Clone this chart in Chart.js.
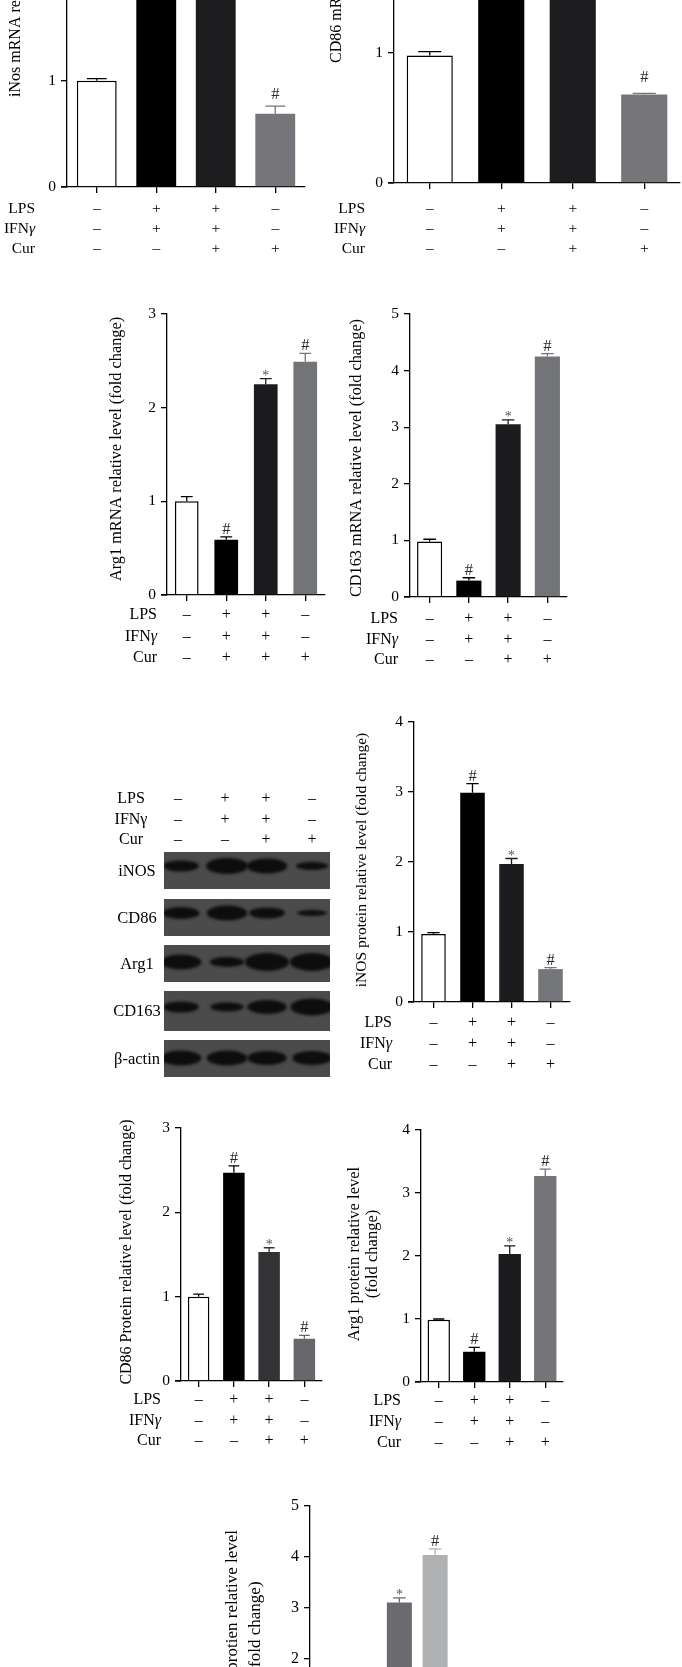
<!DOCTYPE html>
<html>
<head>
<meta charset="utf-8">
<script src="https://cdn.jsdelivr.net/npm/chart.js@4.4.1/dist/chart.umd.min.js"></script>
<style>
  html, body { margin: 0; padding: 0; background: #fff; }
  body { width: 682px; height: 1667px; position: relative; overflow: hidden; }
  canvas { position: absolute; }
</style>
</head>
<body>
<script>
// treatment rows under each bar group
const rowNames = ['LPS', 'IFNγ', 'Cur'];
const lpsRow = ['–', '+', '+', '–'];
const ifnRow = ['–', '+', '+', '–'];
const curRow = ['–', '–', '+', '+'];
const curRowArg1 = ['–', '+', '+', '+'];
const groups = ['control', 'LPS+IFNγ', 'LPS+IFNγ+Cur', 'Cur'];

// qPCR (fold change), top of bar and top of error bar
const inosMrna = [1.0, 2.9, 2.4, 0.69];
const inosMrnaErr = [1.02, 3.0, 2.5, 0.76];
const cd86Mrna = [0.98, 2.6, 2.2, 0.68];
const cd86MrnaErr = [1.01, 2.7, 2.3, 0.69];
const arg1Mrna = [1.0, 0.59, 2.25, 2.49];
const arg1MrnaErr = [1.05, 0.62, 2.31, 2.58];
const cd163Mrna = [0.98, 0.29, 3.05, 4.25];
const cd163MrnaErr = [1.02, 0.34, 3.13, 4.30];

// western blot quantification
const inosProt = [0.97, 2.99, 1.97, 0.47];
const inosProtErr = [0.99, 3.12, 2.05, 0.49];
const cd86Prot = [1.0, 2.47, 1.53, 0.50];
const cd86ProtErr = [1.03, 2.55, 1.58, 0.54];
const arg1Prot = [0.99, 0.48, 2.03, 3.27];
const arg1ProtErr = [1.0, 0.55, 2.16, 3.38];
const cd163Prot = [1.0, 0.5, 3.11, 4.04];
const cd163ProtErr = [1.03, 0.55, 3.2, 4.16];

const marks = ['', '#', '*', '#'];

// blot band strength per lane (band thickness)
const blotProteins = ['iNOS', 'CD86', 'Arg1', 'CD163', 'β-actin'];
const inosBands = [9, 14, 13, 6];
const cd86Bands = [10, 13, 9, 4];
const arg1Bands = [13, 8, 16, 16];
const cd163Bands = [9, 7, 12, 15];
const actinBands = [13, 13, 12, 12];

const FONT = '"Liberation Serif", "Times New Roman", serif';
Chart.defaults.animation = false;

// italic gamma in "IFNγ"
function drawRowName(ctx, name, xr, y, size, italicGamma) {
  ctx.textAlign = 'right';
  if (name.endsWith('γ') && italicGamma) {
    ctx.font = `italic ${size}px ${FONT}`;
    const gw = ctx.measureText('γ').width;
    ctx.fillText('γ', xr, y);
    ctx.font = `${size}px ${FONT}`;
    ctx.fillText(name.slice(0, -1), xr - gw, y);
  } else {
    ctx.font = `${size}px ${FONT}`;
    ctx.fillText(name, xr, y);
  }
}

const extras = {
  id: 'extras',
  afterDatasetsDraw(chart, args, o) {
    const { ctx, scales: { x, y } } = chart;
    const meta = chart.getDatasetMeta(0);
    ctx.save();
    meta.data.forEach((bar, i) => {
      const top = y.getPixelForValue(o.err[i]);
      const v = y.getPixelForValue(o.values[i]);
      const c = o.colors[i] === '#ffffff' ? '#000' : o.colors[i];
      ctx.strokeStyle = c;
      ctx.lineWidth = 1.3;
      const cw = bar.width * 0.25;
      ctx.beginPath();
      ctx.moveTo(bar.x, v);
      ctx.lineTo(bar.x, top);
      ctx.moveTo(bar.x - cw, top);
      ctx.lineTo(bar.x + cw, top);
      ctx.stroke();
      const m = o.marks[i];
      if (m) {
        ctx.textAlign = 'center';
        ctx.textBaseline = 'alphabetic';
        if (m === '*') {
          ctx.fillStyle = '#555';
          ctx.font = `14px ${FONT}`;
          ctx.fillText(m, bar.x, top + 1.5);
        } else {
          ctx.fillStyle = '#2a2a2a';
          ctx.font = `16.5px ${FONT}`;
          ctx.fillText(m, bar.x, top - o.markGap);
        }
      }
    });
    ctx.restore();
  },
  afterDraw(chart, args, o) {
    const { ctx, chartArea, scales: { x } } = chart;
    ctx.save();
    // x axis sticks out a bit left of the y axis
    ctx.strokeStyle = '#000';
    ctx.lineWidth = 1.3;
    ctx.beginPath();
    ctx.moveTo(chartArea.left - 6, chartArea.bottom);
    ctx.lineTo(chartArea.left, chartArea.bottom);
    ctx.stroke();
    // treatment table under the x axis
    ctx.fillStyle = '#000';
    ctx.textBaseline = 'middle';
    o.rows.forEach((row, k) => {
      const yy = chartArea.bottom + o.row0 + o.lh * k;
      drawRowName(ctx, rowNames[k], chartArea.left + o.rowDx, yy, o.fs, true);
      ctx.font = `${o.fs}px ${FONT}`;
      ctx.textAlign = 'center';
      row.forEach((s, i) => ctx.fillText(s, x.getPixelForTick(i), yy));
    });
    // y axis title
    const t = o.title;
    ctx.font = `${t.size}px ${FONT}`;
    ctx.fillStyle = '#000';
    ctx.textBaseline = 'middle';
    t.lines.forEach((line, k) => {
      ctx.save();
      ctx.translate(t.x[k] - o.cLeft, t.y - o.cTop);
      ctx.rotate(-Math.PI / 2);
      ctx.textAlign = t.align;
      ctx.fillText(line, 0, 0);
      ctx.restore();
    });
    ctx.restore();
  }
};

function makePanel(p) {
  const padL = 100, padR = 12, padT = 24, padB = 80, YW = 30, XH = 12;
  const cLeft = Math.round(p.left - padL), cTop = Math.round(p.top - padT);
  const W = Math.round(p.right + padR - cLeft), H = Math.round(p.bottom + padB - cTop);
  const cv = document.createElement('canvas');
  cv.width = W; cv.height = H;
  cv.style.left = cLeft + 'px'; cv.style.top = cTop + 'px';
  cv.style.width = W + 'px'; cv.style.height = H + 'px';
  document.body.appendChild(cv);
  const fs = p.fs || 16;
  const axisGrid = { display: true, drawOnChartArea: false, drawTicks: true, tickLength: 6, color: '#000', lineWidth: 1.3, offset: false };
  new Chart(cv, {
    type: 'bar',
    data: {
      labels: groups,
      datasets: [{
        data: p.values,
        backgroundColor: p.colors,
        borderColor: '#000',
        borderWidth: p.colors.map(c => c === '#ffffff' ? 1.5 : 0),
        borderSkipped: 'bottom',
        categoryPercentage: 1,
        barPercentage: p.barPct
      }]
    },
    options: {
      responsive: false,
      devicePixelRatio: 1,
      layout: { padding: { left: padL - YW, right: padR, top: padT, bottom: padB - XH } },
      plugins: {
        legend: { display: false },
        tooltip: { enabled: false },
        extras: {
          values: p.values, err: p.err, colors: p.colors, marks: p.marks,
          markGap: p.markGap || 3, rowDx: p.rowDx, fs, lh: p.lh || 21, row0: p.row0 || 20,
          rows: [lpsRow, ifnRow, p.cur],
          title: p.title, cLeft, cTop
        }
      },
      scales: {
        x: {
          offset: true,
          grid: axisGrid,
          border: { display: true, color: '#000', width: 1.3 },
          ticks: { callback: () => '', maxRotation: 0, autoSkip: false },
          afterFit(s) { s.height = XH; s.paddingLeft = 0; s.paddingRight = 0; }
        },
        y: {
          min: 0, max: p.yMax,
          grid: axisGrid,
          border: { display: true, color: '#000', width: 1.3 },
          ticks: { stepSize: 1, color: '#000', font: { family: FONT, size: p.tfs || 15.5 }, padding: 5 },
          afterFit(s) { s.width = YW; s.paddingTop = 0; s.paddingBottom = 0; }
        }
      }
    },
    plugins: [extras]
  });
}

const darkSet = ['#ffffff', '#000000', '#1d1d1f', '#76767a'];

makePanel({ left: 67, right: 305, top: -132.5, bottom: 186.7, yMax: 3, values: inosMrna, err: inosMrnaErr,
  colors: darkSet, marks, markGap: 7, cur: curRow, barPct: 0.67, rowDx: -32, fs: 15.5, row0: 22, lh: 19.8,
  title: { lines: ['iNos mRNA relative level (fold change)'], x: [16], y: 97, align: 'left', size: 16 } });
makePanel({ left: 394.3, right: 680, top: -206.7, bottom: 183.3, yMax: 3, values: cd86Mrna, err: cd86MrnaErr,
  colors: darkSet, marks, markGap: 11, cur: curRow, barPct: 0.645, rowDx: -29, fs: 15.5, row0: 26, lh: 19.8,
  title: { lines: ['CD86 mRNA relative level (fold change)'], x: [337], y: 63, align: 'left', size: 16 } });
makePanel({ left: 167, right: 324.6, top: 314, bottom: 595.3, yMax: 3, values: arg1Mrna, err: arg1MrnaErr,
  colors: ['#ffffff', '#000000', '#1c1c1e', '#737478'], marks, cur: curRowArg1, barPct: 0.6, rowDx: -10, lh: 21.5,
  title: { lines: ['Arg1 mRNA relative level (fold change)'], x: [117], y: 449, align: 'center', size: 16.3 } });
makePanel({ left: 409.5, right: 566.8, top: 314.3, bottom: 597.3, yMax: 5, values: cd163Mrna, err: cd163MrnaErr,
  colors: ['#ffffff', '#000000', '#1c1c1e', '#737478'], marks, cur: curRow, barPct: 0.64, rowDx: -12, row0: 22, lh: 20.3,
  title: { lines: ['CD163 mRNA relative level (fold change)'], x: [357], y: 458, align: 'center', size: 16.3 } });
makePanel({ left: 413.7, right: 569.5, top: 721.7, bottom: 1002.3, yMax: 4, values: inosProt, err: inosProtErr,
  colors: ['#ffffff', '#000000', '#1c1c1e', '#75767a'], marks, cur: curRow, barPct: 0.63, rowDx: -22, row0: 21, lh: 21,
  title: { lines: ['iNOS protein relative level (fold change)'], x: [362], y: 860, align: 'center', size: 15.5 } });
makePanel({ left: 181, right: 321.6, top: 1128.3, bottom: 1381, yMax: 3, values: cd86Prot, err: cd86ProtErr,
  colors: ['#ffffff', '#000000', '#333336', '#67686c'], marks, cur: curRow, barPct: 0.61, rowDx: -20, row0: 19, lh: 20.5,
  title: { lines: ['CD86 Protein relative level (fold change)'], x: [127], y: 1252, align: 'center', size: 16 } });
makePanel({ left: 420.7, right: 562.9, top: 1130, bottom: 1381.7, yMax: 4, values: arg1Prot, err: arg1ProtErr,
  colors: ['#ffffff', '#000000', '#1c1c1e', '#747579'], marks, cur: curRow, barPct: 0.63, rowDx: -20, row0: 18.5, lh: 21,
  title: { lines: ['Arg1 protein relative level', '(fold change)'], x: [355, 373], y: 1254, align: 'center', size: 16.5 } });
makePanel({ left: 310, right: 452.6, top: 1506, bottom: 1760.5, yMax: 5, values: cd163Prot, err: cd163ProtErr,
  colors: ['#ffffff', '#3a3a3c', '#6a6b6f', '#b0b1b3'], marks, cur: curRow, barPct: 0.7, rowDx: -20, tfs: 16,
  title: { lines: ['CD163 protien relative level', '(fold change)'], x: [233, 256], y: 1627, align: 'center', size: 17 } });

// western blot
(function drawBlot() {
  const cLeft = 90, cTop = 780;
  const cv = document.createElement('canvas');
  cv.width = 250; cv.height = 310;
  cv.style.left = cLeft + 'px'; cv.style.top = cTop + 'px';
  cv.style.width = '250px'; cv.style.height = '310px';
  document.body.appendChild(cv);
  const ctx = cv.getContext('2d');
  const lanes = [181, 227, 267, 312];
  const boxes = [[852, 889], [899, 936], [945, 982], [991, 1031], [1040, 1077]];
  const bandY = [866, 913, 962, 1007, 1058];
  const bands = [inosBands, cd86Bands, arg1Bands, cd163Bands, actinBands];

  ctx.fillStyle = '#000';
  ctx.textBaseline = 'middle';
  const heads = [lpsRow, ifnRow, curRow];
  const headY = [799, 819.5, 840];
  const headX = [178, 225, 266, 312];
  heads.forEach((row, k) => {
    ctx.font = `16px ${FONT}`;
    ctx.textAlign = 'center';
    ctx.fillText(rowNames[k], 131 - cLeft, headY[k] - cTop);
    row.forEach((s, i) => ctx.fillText(s, headX[i] - cLeft, headY[k] - cTop));
  });

  blotProteins.forEach((name, r) => {
    const [y0, y1] = boxes[r];
    ctx.save();
    ctx.beginPath();
    ctx.rect(164 - cLeft, y0 - cTop, 166, y1 - y0);
    ctx.clip();
    ctx.fillStyle = '#4b4b4b';
    ctx.fillRect(164 - cLeft, y0 - cTop, 166, y1 - y0);
    ctx.filter = 'blur(1.6px)';
    ctx.fillStyle = '#0d0d0d';
    bands[r].forEach((t, i) => {
      const w = 12.5 + t * 0.6;
      ctx.beginPath();
      ctx.ellipse(lanes[i] - cLeft, bandY[r] - cTop, w, t / 2 + 1, 0, 0, Math.PI * 2);
      ctx.fill();
    });
    ctx.restore();
    ctx.fillStyle = '#000';
    ctx.textAlign = 'center';
    ctx.font = `16.5px ${FONT}`;
    ctx.fillText(name, 137 - cLeft, (y0 + y1) / 2 + 1 - cTop);
  });
})();
</script>
</body>
</html>
